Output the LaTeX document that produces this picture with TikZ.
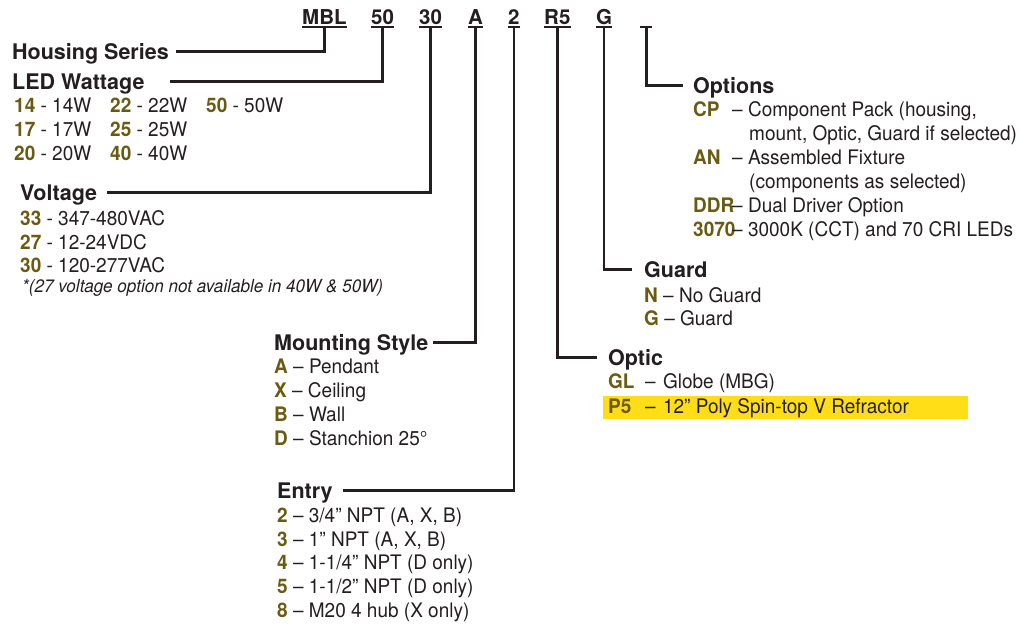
\documentclass[tikz,border=0pt]{standalone}
\usepackage{fontspec}
\setmainfont{TeX Gyre Heros}
\newfontfamily\itemfont{TeX Gyre Heros}[FakeStretch=0.95]
\definecolor{inkc}{HTML}{231F20}
\definecolor{codeol}{HTML}{6B5A12}
\definecolor{hlc}{HTML}{FFDE17}
\newcommand{\cd}[1]{\textcolor{codeol}{\bfseries #1}}
\newcommand{\cdw}[2]{\makebox[#1][l]{\textcolor{codeol}{\bfseries #2}}}
\tikzset{
  conn/.style={draw=inkc, line width=2.6pt},
  uline/.style={draw=inkc, line width=1.8pt},
  codebox/.style={font=\fontsize{20.5}{24}\selectfont\bfseries, text=inkc, inner xsep=0pt, inner ysep=2.5pt, text height=15pt, text depth=0pt, anchor=base west},
  headbox/.style={font=\fontsize{21.5}{24}\selectfont\bfseries, text=inkc, inner sep=0pt, text height=15.4pt, text depth=0pt, anchor=base west},
  itembox/.style={font=\itemfont\fontsize{20}{22}\selectfont, text=inkc, inner sep=0pt, anchor=base west},
  notebox/.style={font=\itemfont\fontsize{18}{20}\selectfont\itshape, text=inkc, inner sep=0pt, anchor=base west}
}
\begin{document}
\begin{tikzpicture}[x=1pt,y=-1pt]
\useasboundingbox (0,0) rectangle (1030,625);
\fill[white] (0,0) rectangle (1030,625);

% code row
\node[codebox] (mbl) at (302,24) {MBL};
\node[codebox] (c50) at (371,24) {50};
\node[codebox] (c30) at (419,24) {30};
\node[codebox] (cA)  at (468,24) {A};
\node[codebox] (c2)  at (508,24) {2};
\node[codebox] (cR5) at (544,24) {R5};
\node[codebox] (cG)  at (596,24) {G};
\node[codebox, minimum width=12pt] (copt) at (640,24) {};
\foreach \n in {mbl,c50,c30,cA,c2,cR5,cG,copt}
  \draw[uline] (\n.south west) -- (\n.south east);

% headings
\node[headbox] (hs)    at (12,59)   {Housing Series};
\node[headbox] (led)   at (12,89)   {LED Wattage};
\node[headbox] (volt)  at (20,200)  {Voltage};
\node[headbox] (mount) at (274,350) {Mounting Style};
\node[headbox] (entry) at (277,498) {Entry};
\node[headbox] (optic) at (608,365) {Optic};
\node[headbox] (guard) at (644,277) {Guard};
\node[headbox] (opts)  at (693,93)  {Options};

% connectors
\draw[conn, shorten >=7.4pt]  (mbl.south) |- (hs.east);
\draw[conn, shorten >=25pt]   (c50.south) |- (led.east);
\draw[conn, shorten >=10pt]   (c30.south) |- (volt.east);
\draw[conn, shorten >=5pt]    (cA.south)  |- (mount.east);
\draw[conn, shorten >=10pt]   (c2.south)  |- (entry.east);
\draw[conn, shorten >=11pt]   (cR5.south) |- (optic.west);
\draw[conn, shorten >=12pt]   (cG.south)  |- (guard.west);
\draw[conn, shorten >=10pt]   (copt.south) |- (opts.west);

% LED wattage items
\node[itembox] (w14) at (14,112)  {\cd{14} - 14W};
\node[itembox] (w17) at (14,136)  {\cd{17} - 17W};
\node[itembox] (w20) at (14,160)  {\cd{20} - 20W};
\node[itembox] (w22) at (110,112) {\cd{22} - 22W};
\node[itembox] (w25) at (110,136) {\cd{25} - 25W};
\node[itembox] (w40) at (110,160) {\cd{40} - 40W};
\node[itembox] (w50) at (206,112) {\cd{50} - 50W};

% voltage items
\node[itembox] (v33) at (20,225) {\cd{33} - 347-480VAC};
\node[itembox] (v27) at (20,249) {\cd{27} - 12-24VDC};
\node[itembox] (v30) at (20,272) {\cd{30} - 120-277VAC};
\node[notebox] (vnote) at (22,292) {*(27 voltage option not available in 40W \& 50W)};

% mounting items
\node[itembox] (mA) at (274,373) {\cd{A} – Pendant};
\node[itembox] (mX) at (274,397) {\cd{X} – Ceiling};
\node[itembox] (mB) at (274,421) {\cd{B} – Wall};
\node[itembox] (mD) at (274,445) {\cd{D} – Stanchion 25°};

% entry items
\node[itembox] (e2) at (277,522) {\cd{2} – 3/4” NPT (A, X, B)};
\node[itembox] (e3) at (277,546) {\cd{3} – 1” NPT (A, X, B)};
\node[itembox] (e4) at (277,569) {\cd{4} – 1-1/4” NPT (D only)};
\node[itembox] (e5) at (277,593) {\cd{5} – 1-1/2” NPT (D only)};
\node[itembox] (e8) at (277,617) {\cd{8} – M20 4 hub (X only)};

% options items
\node[itembox] (oCP)  at (693,116) {\cdw{39pt}{CP}– Component Pack (housing,};
\node[itembox] (oCP2) at (749,140) {mount, Optic, Guard if selected)};
\node[itembox] (oAN)  at (693,164) {\cdw{39pt}{AN}– Assembled Fixture};
\node[itembox] (oAN2) at (749,188) {(components as selected)};
\node[itembox] (oDDR) at (693,212) {\cdw{39pt}{DDR}– Dual Driver Option};
\node[itembox] (o3070) at (693,236) {\cdw{39pt}{3070}– 3000K (CCT) and 70 CRI LEDs};

% guard items
\node[itembox] (gN) at (644,302) {\cd{N} – No Guard};
\node[itembox] (gG) at (644,325) {\cd{G} – Guard};

% optic items
\fill[hlc] (603,396) rectangle (968,419);
\node[itembox] (pGL) at (608,388) {\cdw{37pt}{GL}– \hspace{2pt}Globe (MBG)};
\node[itembox] (pP5) at (608,413) {\cdw{37pt}{P5}– \hspace{2pt}12” Poly Spin-top V Refractor};
\end{tikzpicture}
\end{document}
